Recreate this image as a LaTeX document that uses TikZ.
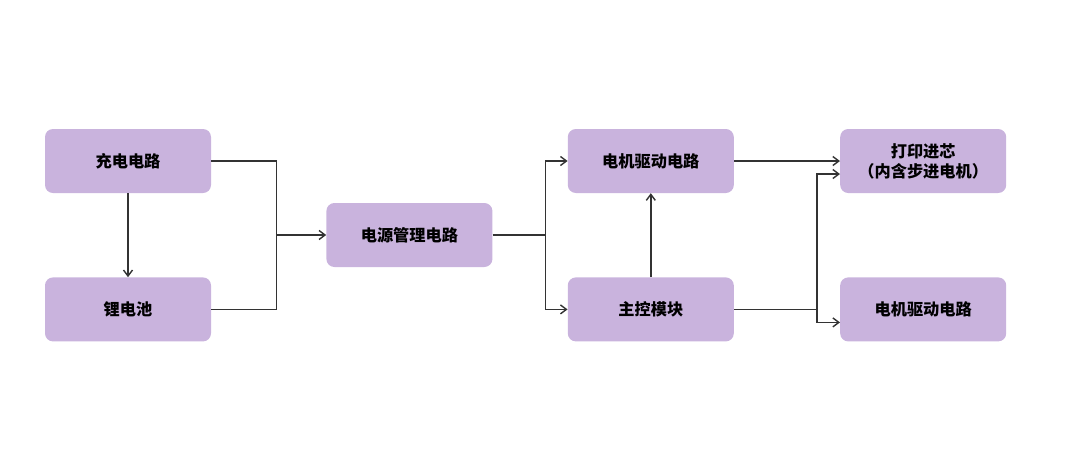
\documentclass[tikz,border=0pt]{standalone}
\usepackage{fontspec}
\setmainfont{Noto Sans CJK SC}
\usepackage{tikz}
\usetikzlibrary{positioning,arrows.meta}
\definecolor{boxfill}{HTML}{C9B3DD}
\definecolor{linegray}{HTML}{333333}

\begin{document}
\begin{tikzpicture}[x=1pt,y=-1pt,
    blk/.style={fill=boxfill,rounded corners=8pt,minimum width=166pt,minimum height=64pt,inner sep=0pt,align=center,font=\fontsize{16.2}{20}\selectfont\bfseries},
    conn/.style={draw=linegray,line width=1.4pt},
    >={Straight Barb[length=6pt,width=9pt]}] %
    \useasboundingbox (0,0) rectangle (1080,456);
    \node[blk] at (128,161) (charge) {充电电路} ; %
    \node[blk, below=84pt of charge] (battery) {锂电池} ; %
    \node[blk, right=115pt of charge, yshift=-74pt] (power) {电源管理电路} ; %
    \node[blk, right=75pt of power, yshift=74pt] (motor) {电机驱动电路};
    \node[blk, below=84pt of motor] (mcu) {主控模块};
    \node[blk, right=106pt of motor] (chip) {打印进芯\\（内含步进电机）};
    \node[blk, right=106pt of mcu] (motor2) {电机驱动电路};
    \coordinate[left=50pt of power.west] (jl);
    \coordinate[left=22pt of motor.west |- power.east] (jm);
    \coordinate[left=23pt of chip.west |- mcu.east] (jr);
    \draw[conn,->] (charge) -- (battery) ; %
    \draw[conn] (charge.east) -| (jl);
    \draw[conn] (battery.east) -| (jl);
    \draw[conn,->] (jl) -- (power.west);
    \draw[conn] (power.east) -- (jm);
    \draw[conn,->] (jm) |- (motor.west);
    \draw[conn,->] (jm) |- (mcu.west);
    \draw[conn,->] (mcu) -- (motor);
    \draw[conn,->] (motor.east) -- (chip.west);
    \draw[conn] (mcu.east) -- (jr);
    \draw[conn,->] (jr) |- ([yshift=-13pt]chip.west);
    \draw[conn,->] (jr) |- ([yshift=-13pt]motor2.west);
  \end{tikzpicture}
\end{document}
